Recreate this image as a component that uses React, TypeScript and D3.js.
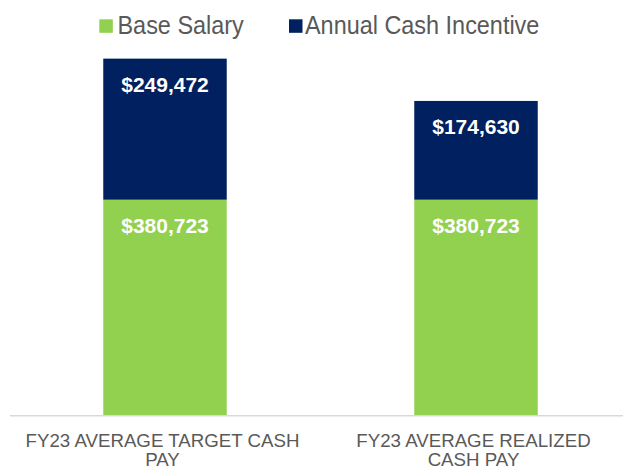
import React from "react";
import * as d3 from "d3";

const categories = ["FY23 AVERAGE TARGET CASH PAY", "FY23 AVERAGE REALIZED CASH PAY"];
const seriesNames = ["Base Salary", "Annual Cash Incentive"];
const baseSalary = [380723, 380723];
const annualCashIncentive = [249472, 174630];
const seriesColors = ["#92D050", "#002060"];

const W = 623;
const H = 468;
const FONT = "'Liberation Sans', Arial, sans-serif";

function measure(text: string, size: number): number {
  const c = document.createElement("canvas").getContext("2d");
  if (!c) return text.length * size * 0.6;
  c.font = `${size}px 'Liberation Sans', Arial, sans-serif`;
  return c.measureText(text).width;
}

function wrap(text: string, size: number, maxW: number): string[] {
  const words = text.split(" ");
  const lines: string[] = [];
  let cur = "";
  for (const w of words) {
    const t = cur ? cur + " " + w : w;
    if (cur && measure(t, size) > maxW) {
      lines.push(cur);
      cur = w;
    } else cur = t;
  }
  if (cur) lines.push(cur);
  return lines;
}

const fmt = (v: number) => "$" + d3.format(",")(v);

export default function App() {
  const x = d3
    .scaleBand<string>()
    .domain(categories)
    .range([9.5, 631.5])
    .paddingInner(0.603)
    .paddingOuter(0.3015);
  const y = d3.scaleLinear().domain([0, 700000]).range([415, 415 - 700000 * 0.0005655]);

  const rows = categories.map((c, i) => ({ c, base: baseSalary[i], inc: annualCashIncentive[i] }));
  const stack = d3.stack<any>().keys(["base", "inc"])(rows as any);

  const catSize = 18.7;
  const labelSize = 21;

  return (
    <svg width={W} height={H} style={{ position: "absolute", left: 0, top: 0, display: "block" }} fontFamily={FONT}>
      <rect width={W} height={H} fill="#fff" />
      {/* legend */}
      <g>
        <rect x={99.3} y={19.3} width={13.5} height={13.5} fill={seriesColors[0]} />
        <text transform="translate(117.5,34.2) scale(0.937,1)" fontSize={25} fill="#595959">
          {seriesNames[0]}
        </text>
        <rect x={289} y={19.3} width={13.5} height={13.5} fill={seriesColors[1]} />
        <text transform="translate(305,34.2) scale(0.937,1)" fontSize={25} fill="#595959">
          {seriesNames[1]}
        </text>
      </g>
      {/* bars */}
      {stack.map((layer, si) => (
        <g key={si}>
          {layer.map((d: any, i: number) => {
            const cx = (x(categories[i]) as number) + x.bandwidth() / 2;
            const top = y(d[1]);
            return (
              <g key={i}>
                <rect
                  x={x(categories[i])}
                  y={top}
                  width={x.bandwidth()}
                  height={y(d[0]) - y(d[1])}
                  fill={seriesColors[si]}
                />
                <text
                  x={cx}
                  y={top + 33}
                  textAnchor="middle"
                  fontSize={labelSize}
                  fontWeight="bold"
                  fill="#ffffff"
                >
                  {fmt(d[1] - d[0])}
                </text>
              </g>
            );
          })}
        </g>
      ))}
      {/* axis line */}
      <line x1={10} x2={W} y1={415.7} y2={415.7} stroke="#D9D9D9" strokeWidth={1.5} />
      {/* category labels */}
      {categories.map((c, i) => {
        const cx = (x(c) as number) + x.bandwidth() / 2 - 2.5;
        const lines = wrap(c, catSize, 285);
        return (
          <text key={c} x={cx} textAnchor="middle" fontSize={catSize} fill="#595959">
            {lines.map((l, j) => (
              <tspan key={j} x={cx} y={446.5 + j * 19.5}>
                {l}
              </tspan>
            ))}
          </text>
        );
      })}
    </svg>
  );
}
